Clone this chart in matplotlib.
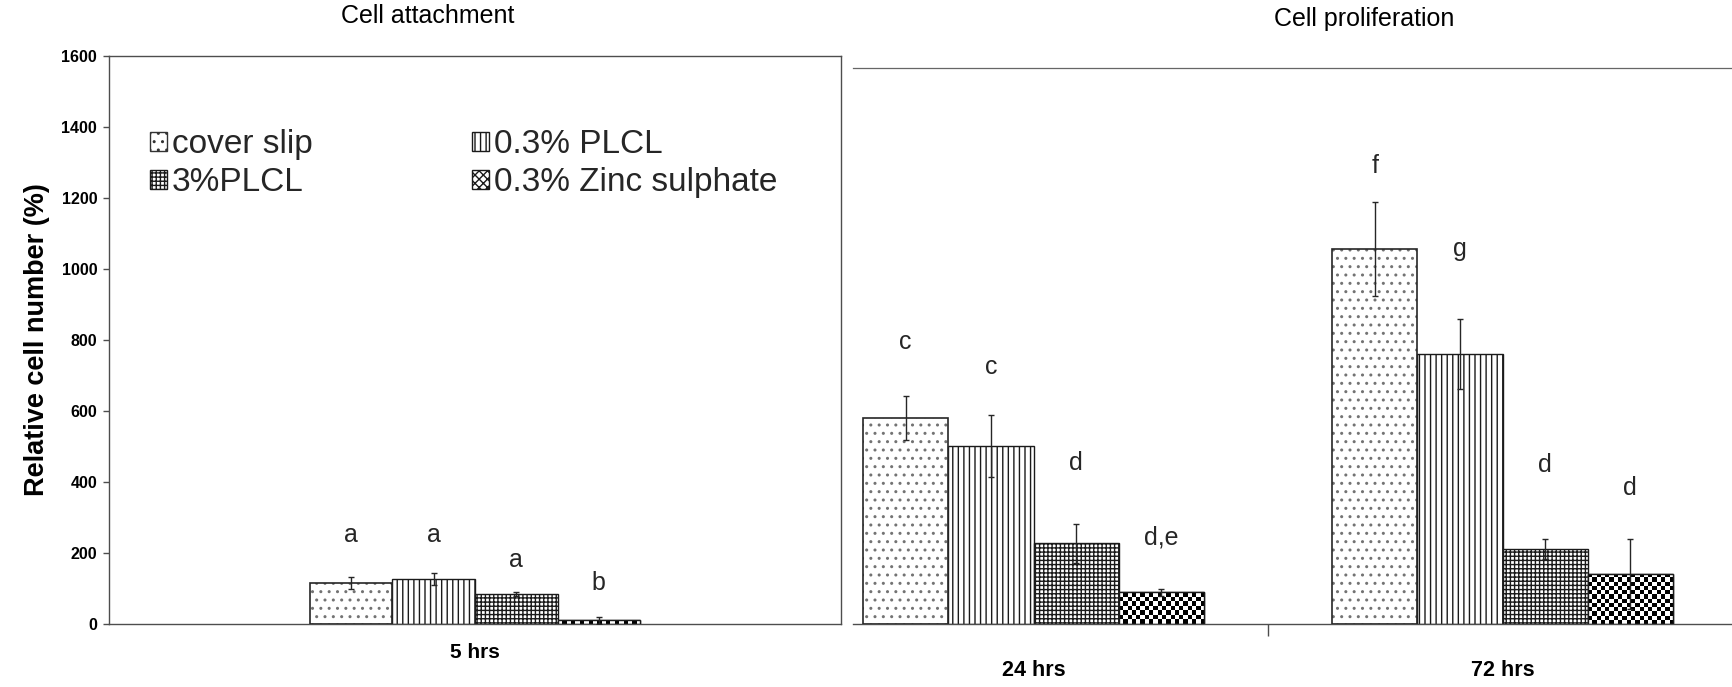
import numpy as np
import matplotlib
matplotlib.use("Agg")
import matplotlib.pyplot as plt
from matplotlib.patches import Patch

plt.rcParams['font.family'] = ['Liberation Sans', 'DejaVu Sans']
plt.rcParams['hatch.linewidth'] = 1.0

# ---------------- data ----------------
series = ["cover slip", "0.3% PLCL", "3%PLCL", "0.3% Zinc sulphate"]
attach_cat = ["5 hrs"]
attach_vals = [[115], [127], [85], [10]]
attach_err = [[17], [17], [5], [10]]
attach_letters = [["a"], ["a"], ["a"], ["b"]]
attach_letter_y = [[250], [250], [180], [115]]

prolif_cat = ["24 hrs", "72 hrs"]
prolif_vals = [[580, 1056], [502, 760], [227, 211], [90, 141]]
prolif_err = [[63, 133], [88, 99], [54, 28], [10, 98]]
prolif_letters = [["c", "f"], ["c", "g"], ["d", "d"], ["d,e", "d"]]
prolif_letter_y = [[794, 1290], [724, 1056], [453, 448], [245, 383]]

yticks = [0, 200, 400, 600, 800, 1000, 1200, 1400, 1600]

# ---------------- figure ----------------
W, H = 1733, 687
fig = plt.figure(figsize=(W / 100, H / 100), dpi=100)

def px_box(x0, y0, x1, y1):
    return [x0 / W, 1 - y1 / H, (x1 - x0) / W, (y1 - y0) / H]

axL = fig.add_axes(px_box(109, 56, 841, 624))
axR = fig.add_axes(px_box(853, 68, 1733, 624))

hatches = ['..', '|||', '++++', None]
spine_col = '0.3'


def checker(ax, bar, cell_px=4.3):
    x0, y0 = bar.get_x(), bar.get_y()
    w, h = bar.get_width(), bar.get_height()
    p0 = ax.transData.transform((x0, y0))
    p1 = ax.transData.transform((x0 + w, y0 + h))
    nx = max(1, int(round(abs(p1[0] - p0[0]) / cell_px)))
    ny = max(1, int(round(abs(p1[1] - p0[1]) / cell_px)))
    arr = (np.add.outer(np.arange(ny), np.arange(nx)) % 2).astype(float)
    im = ax.imshow(arr, cmap='gray_r', extent=(x0, x0 + w, y0, y0 + h),
                   interpolation='nearest', aspect='auto', origin='lower',
                   zorder=2, vmin=0, vmax=1)
    im.set_clip_path(bar)


def draw_panel(ax, cats, vals, errs, letters, letter_y, width, xlim, ylim):
    ax.set_xlim(*xlim)
    ax.set_ylim(*ylim)
    x = np.arange(len(cats))
    for i in range(4):
        xi = x + (i - 1.5) * width
        if i == 0:
            ax.bar(xi, vals[i], width, color='white', edgecolor='0.45',
                   hatch=hatches[i], linewidth=0, zorder=2)
            ax.bar(xi, vals[i], width, fill=False, edgecolor='0.15',
                   linewidth=1.2, zorder=3)
        elif i == 3:
            bars = ax.bar(xi, vals[i], width, color='white', edgecolor='0.1',
                          linewidth=1.0, zorder=2)
            for b in bars:
                checker(ax, b)
            ax.bar(xi, vals[i], width, fill=False, edgecolor='0.1',
                   linewidth=1.0, zorder=3)
        else:
            ax.bar(xi, vals[i], width, color='white', edgecolor='0.1',
                   hatch=hatches[i], linewidth=1.0, zorder=2)
        ax.errorbar(xi, vals[i], yerr=errs[i], fmt='none', ecolor='0.15',
                    elinewidth=1.0, capsize=2, capthick=1.0, zorder=4)
        for k, xv in enumerate(xi):
            ax.text(xv, letter_y[i][k], letters[i][k], ha='center', va='center',
                    fontsize=18, color='0.15', zorder=5)
    ax.set_xlim(*xlim)
    ax.set_ylim(*ylim)


# left panel
wL = 82.5 / 469
draw_panel(axL, attach_cat, attach_vals, attach_err, attach_letters,
           attach_letter_y, wL, (-0.780, 0.780), (0, 1600))
axL.set_xticks([])
axL.set_yticks(yticks)
axL.set_yticklabels([str(t) for t in yticks], fontsize=11.5, fontweight='bold')
axL.tick_params(axis='y', direction='out', length=4.5, width=1.0, pad=4,
                color=spine_col)
for s in axL.spines.values():
    s.set_color(spine_col)
    s.set_linewidth(1.0)
axL.set_ylabel("Relative cell number (%)", fontsize=19.5, fontweight='bold',
               labelpad=8)
for j, c in enumerate(attach_cat):
    axL.text(j, -80, c, ha='center', va='center', fontsize=15,
             fontweight='bold', transform=axL.transData, clip_on=False)

# right panel
wR = 85.25 / 469
ylimR = 1600 * (624 - 68) / (624 - 56)
draw_panel(axR, prolif_cat, prolif_vals, prolif_err, prolif_letters,
           prolif_letter_y, wR, (-0.385, 1.4915), (0, ylimR))
axR.set_yticks([])
axR.set_xticks([0.5])
axR.set_xticklabels([""])
axR.tick_params(axis='x', direction='out', length=8.5, width=1.0,
                color=spine_col)
axR.spines['left'].set_visible(False)
axR.spines['right'].set_visible(False)
axR.spines['top'].set_color('0.4')
axR.spines['top'].set_linewidth(0.9)
axR.spines['bottom'].set_color(spine_col)
axR.spines['bottom'].set_linewidth(1.0)
for j, c in enumerate(prolif_cat):
    axR.text(j, -130, c, ha='center', va='center', fontsize=15.5,
             fontweight='bold', clip_on=False)

# titles
fig.text(428 / W, 1 - 16 / H, "Cell attachment", ha='center', va='center',
         fontsize=18)
fig.text(1364 / W, 1 - 19 / H, "Cell proliferation", ha='center', va='center',
         fontsize=18)

# legend
handles = [
    Patch(facecolor='white', edgecolor='0.2', hatch='..', linewidth=1.0),
    Patch(facecolor='white', edgecolor='0.1', hatch='++++', linewidth=1.0),
    Patch(facecolor='white', edgecolor='0.1', hatch='|||', linewidth=1.0),
    Patch(facecolor='white', edgecolor='0.1', hatch='xxxx', linewidth=1.0),
]
labels = [series[0], series[2], series[1], series[3]]
axL.legend(handles, labels, ncol=2, loc='upper left',
           bbox_to_anchor=(150 / W, 1 - 129 / H), bbox_transform=fig.transFigure,
           frameon=False, fontsize=24, handlelength=0.5, handleheight=0.5,
           handletextpad=0.15, columnspacing=4.8, labelspacing=0.22,
           borderpad=0, borderaxespad=0, labelcolor='0.15')

fig.savefig("out.png", dpi=100, facecolor='white')
